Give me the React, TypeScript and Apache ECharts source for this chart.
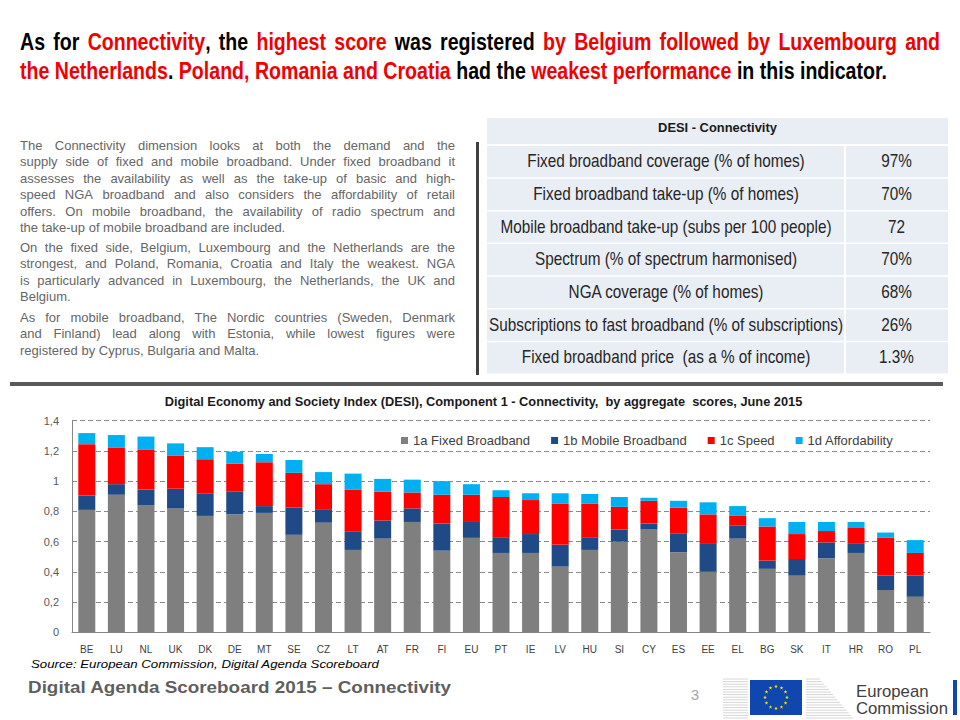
import React, { useEffect, useRef } from "react";
import * as echarts from "echarts";

// ---------- DATA ----------
const countries = ["BE","LU","NL","UK","DK","DE","MT","SE","CZ","LT","AT","FR","FI","EU","PT","IE","LV","HU","SI","CY","ES","EE","EL","BG","SK","IT","HR","RO","PL"];
const fixedBroadband = [0.81,0.91,0.84,0.82,0.77,0.78,0.79,0.645,0.725,0.545,0.62,0.73,0.54,0.625,0.525,0.525,0.435,0.545,0.6,0.68,0.53,0.4,0.62,0.42,0.375,0.49,0.525,0.28,0.235];
const mobileBroadband = [0.095,0.07,0.105,0.13,0.15,0.15,0.045,0.18,0.085,0.12,0.12,0.09,0.18,0.105,0.1,0.125,0.145,0.08,0.08,0.04,0.125,0.19,0.085,0.055,0.11,0.105,0.06,0.095,0.14];
const speed = [0.34,0.24,0.265,0.22,0.225,0.185,0.29,0.23,0.17,0.28,0.19,0.105,0.19,0.18,0.27,0.225,0.27,0.225,0.15,0.15,0.17,0.19,0.065,0.225,0.165,0.075,0.105,0.25,0.15];
const affordability = [0.073,0.085,0.085,0.08,0.08,0.08,0.055,0.085,0.08,0.105,0.085,0.085,0.09,0.07,0.045,0.045,0.07,0.065,0.065,0.02,0.045,0.08,0.065,0.055,0.08,0.06,0.04,0.035,0.085];
const seriesNames = ["1a Fixed Broadband","1b Mobile Broadband","1c Speed","1d Affordability"];
const seriesColors = ["#7F7F7F","#1F4A86","#FF0000","#00B0F0"];
const yTickLabels = ["0","0,2","0,4","0,6","0,8","1","1,2","1,4"];

const chartTitle = "Digital Economy and Society Index (DESI), Component 1 - Connectivity,  by aggregate  scores, June 2015";
const sourceText = "Source: European Commission, Digital Agenda Scoreboard";
const footerText = "Digital Agenda Scoreboard 2015 \u2013 Connectivity";
const pageNumber = "3";

// {...} marks red words
const titleLines = [
  "As for {Connectivity}, the {highest score} was registered {by Belgium followed by Luxembourg and}",
  "{the Netherlands}. {Poland, Romania and Croatia} had the {weakest performance} in this indicator.",
];

const paragraphs = [
  [
    "The Connectivity dimension looks at both the demand and the",
    "supply side of fixed and mobile broadband. Under fixed broadband it",
    "assesses the availability as well as the take-up of basic and high-",
    "speed NGA broadband and also considers the affordability of retail",
    "offers. On mobile broadband, the availability of radio spectrum and",
    "the take-up of mobile broadband are  included.",
  ],
  [
    "On the fixed side, Belgium, Luxembourg and the Netherlands are the",
    "strongest, and Poland, Romania, Croatia and Italy the weakest. NGA",
    "is particularly advanced in Luxembourg, the Netherlands, the UK and",
    "Belgium.",
  ],
  [
    "As for mobile broadband, The Nordic countries (Sweden, Denmark",
    "and Finland) lead along with Estonia, while lowest figures were",
    "registered by Cyprus, Bulgaria and Malta.",
  ],
];

const tableHeader = "DESI - Connectivity";
const tableIndicators = [
  "Fixed broadband coverage (% of homes)",
  "Fixed broadband take-up (% of homes)",
  "Mobile broadband take-up (subs per 100 people)",
  "Spectrum (% of spectrum harmonised)",
  "NGA coverage (% of homes)",
  "Subscriptions to fast broadband (% of subscriptions)",
  "Fixed broadband price  (as a % of income)",
];
const tableValues = ["97%","70%","72","70%","68%","26%","1.3%"];

// ---------- HELPERS ----------
let ctx: CanvasRenderingContext2D | null = null;
function tw(t: string, font: string): number {
  if (!ctx) ctx = document.createElement("canvas").getContext("2d");
  ctx!.font = font;
  return ctx!.measureText(t).width;
}

type Run = { t: string; c: string };
function parseMarked(s: string, base: string, hi: string): Run[][] {
  const words: Run[][] = [];
  let cur: Run[] = [];
  let red = false;
  let run = "";
  const flush = () => { if (run) { cur.push({ t: run, c: red ? hi : base }); run = ""; } };
  for (const ch of s) {
    if (ch === "{") { flush(); red = true; }
    else if (ch === "}") { flush(); red = false; }
    else if (ch === " ") { flush(); if (cur.length) { words.push(cur); cur = []; } }
    else run += ch;
  }
  flush();
  if (cur.length) words.push(cur);
  return words;
}

function textEl(text: string, x: number, y: number, font: string, fill: string, align = "left", sx = 1): any {
  return {
    type: "text", x, y, scaleX: sx, silent: true,
    style: { text, font, fill, align, verticalAlign: "middle", textAlign: align, textVerticalAlign: "middle" },
  };
}

function layoutWords(words: Run[][], font: string, sx: number, x0: number, x1: number, y: number, justify: boolean, out: any[]) {
  const widths = words.map(w => w.reduce((a, r) => a + tw(r.t, font) * sx, 0));
  const total = widths.reduce((a, b) => a + b, 0);
  let gap = tw(" ", font) * sx;
  if (justify && words.length > 1) gap = (x1 - x0 - total) / (words.length - 1);
  let x = x0;
  words.forEach((w, i) => {
    let xx = x;
    w.forEach(r => {
      out.push(textEl(r.t, xx, y, font, r.c, "left", sx));
      xx += tw(r.t, font) * sx;
    });
    x += widths[i] + gap;
  });
}

function fitScale(text: string, font: string, target: number) {
  return target / tw(text, font);
}

function star(cx: number, cy: number, r: number): number[][] {
  const pts: number[][] = [];
  for (let i = 0; i < 10; i++) {
    const a = -Math.PI / 2 + (i * Math.PI) / 5;
    const rr = i % 2 === 0 ? r : r * 0.4;
    pts.push([cx + rr * Math.cos(a), cy + rr * Math.sin(a)]);
  }
  return pts;
}

function buildGraphics(): any[] {
  const els: any[] = [];
  // Title
  const titleFont = "bold 23px 'Liberation Sans'";
  const l2 = parseMarked(titleLines[1], "#000000", "#F00000");
  const nat2 = l2.reduce((a, w) => a + w.reduce((b, r) => b + tw(r.t, titleFont), 0), 0) + tw(" ", titleFont) * (l2.length - 1);
  const tsx = 867 / nat2;
  layoutWords(parseMarked(titleLines[0], "#000000", "#F00000"), titleFont, tsx, 20, 940, 42, true, els);
  layoutWords(l2, titleFont, tsx, 20, 940, 71, false, els);

  // Paragraphs
  const pFont = "13px 'Liberation Sans'";
  const starts = [145, 247, 317];
  const step = 16.5;
  paragraphs.forEach((p, pi) => {
    p.forEach((line, li) => {
      const words = line.split(" ").filter(Boolean).map(w => [{ t: w, c: "#666666" }]);
      layoutWords(words, pFont, 1, 20, 455, starts[pi] + li * step, li < p.length - 1, els);
    });
  });

  // vertical separator + horizontal divider
  els.push({ type: "rect", shape: { x: 476, y: 142, width: 3, height: 233 }, style: { fill: "#404040" }, silent: true });
  els.push({ type: "rect", shape: { x: 10, y: 382, width: 933, height: 4 }, style: { fill: "#595959" }, silent: true });

  // Table
  const cellFill = "#E9EDF4";
  const tx0 = 487, tx1 = 948, tcol = 845;
  els.push({ type: "rect", shape: { x: tx0, y: 118, width: tx1 - tx0, height: 26 }, style: { fill: cellFill }, silent: true });
  const hFont = "bold 12px 'Liberation Sans'";
  els.push(textEl(tableHeader, (tx0 + tx1) / 2, 128.5, hFont, "#1a1a1a", "center", fitScale(tableHeader, hFont, 119)));
  const rowFont = "18px 'Liberation Sans'";
  const rsx = fitScale(tableIndicators[5], rowFont, 354);
  const rowTop = 146, rowH = 32.7;
  tableIndicators.forEach((t, i) => {
    const y = rowTop + i * rowH;
    els.push({ type: "rect", shape: { x: tx0, y, width: tcol - tx0 - 1, height: rowH - 1.5 }, style: { fill: cellFill }, silent: true });
    els.push({ type: "rect", shape: { x: tcol + 1, y, width: tx1 - tcol - 1, height: rowH - 1.5 }, style: { fill: cellFill }, silent: true });
    els.push(textEl(t, (tx0 + tcol) / 2, y + rowH / 2 - 1, rowFont, "#262626", "center", rsx));
    els.push(textEl(tableValues[i], (tcol + tx1) / 2, y + rowH / 2 - 1, rowFont, "#262626", "center", rsx));
  });

  // Chart title
  const ctFont = "bold 12px 'Liberation Sans'";
  els.push(textEl(chartTitle, 483.5, 402.5, ctFont, "#1a1a1a", "center", fitScale(chartTitle, ctFont, 638)));

  // Source
  const sFont = "italic 11px 'Liberation Sans'";
  els.push(textEl(sourceText, 31, 664, sFont, "#000000", "left", fitScale(sourceText, sFont, 349)));

  // Footer
  const fFont = "bold 17px 'Liberation Sans'";
  els.push(textEl(footerText, 28, 687, fFont, "#5f5f5f", "left", fitScale(footerText, fFont, 424)));
  els.push(textEl(pageNumber, 695, 694, "15px 'Liberation Sans'", "#a6a6a6", "center"));

  // EC logo: building lines
  for (let y = 679; y <= 719; y += 2.6) {
    els.push({ type: "line", shape: { x1: 723, y1: y, x2: 748, y2: y }, style: { stroke: "#d6d6d6", lineWidth: 1 }, silent: true });
    const len = 8 + (y - 672) * 0.85;
    els.push({ type: "line", shape: { x1: 806, y1: y, x2: 806 + len, y2: y }, style: { stroke: "#d6d6d6", lineWidth: 1 }, silent: true });
  }
  els.push({ type: "rect", shape: { x: 750, y: 680, width: 52, height: 35 }, style: { fill: "#0F47AF" }, silent: true });
  for (let i = 0; i < 12; i++) {
    const a = (i * Math.PI) / 6;
    els.push({ type: "polygon", shape: { points: star(776 + 11 * Math.cos(a), 697.5 + 11 * Math.sin(a), 2) }, style: { fill: "#FFDD00" }, silent: true });
  }
  const ecFont = "16px 'Liberation Sans'";
  const esx = fitScale("Commission", ecFont, 92);
  els.push(textEl("European", 856, 691, ecFont, "#404040", "left", esx));
  els.push(textEl("Commission", 856, 708, ecFont, "#404040", "left", esx));
  els.push({ type: "rect", shape: { x: 953, y: 680, width: 4, height: 35 }, style: { fill: "#0F47AF" }, silent: true });
  return els;
}

function buildOption(): any {
  const values = [fixedBroadband, mobileBroadband, speed, affordability];
  return {
    animation: false,
    backgroundColor: "#ffffff",
    textStyle: { fontFamily: "'Liberation Sans', sans-serif" },
    grid: { left: 72, right: 30, top: 420.7, bottom: 87.7, containLabel: false },
    legend: {
      data: seriesNames,
      left: 396,
      top: 429,
      icon: "rect",
      itemWidth: 7,
      itemHeight: 7,
      itemGap: 21,
      selectedMode: false,
      textStyle: { fontSize: 13, color: "#404040", fontFamily: "'Liberation Sans', sans-serif" },
    },
    xAxis: {
      type: "category",
      data: countries,
      axisLine: { show: true, lineStyle: { color: "#868686", width: 1 } },
      axisTick: { show: false },
      axisLabel: { fontSize: 10, color: "#404040", margin: 12, interval: 0, fontFamily: "'Liberation Sans Narrow', 'Liberation Sans', sans-serif" },
    },
    yAxis: {
      type: "value",
      min: 0,
      max: 1.4,
      interval: 0.2,
      axisLine: { show: true, lineStyle: { color: "#868686", width: 1 } },
      axisTick: { show: false },
      axisLabel: {
        fontSize: 11,
        color: "#595959",
        margin: 13,
        formatter: (v: number) => yTickLabels[Math.round(v / 0.2)] ?? "",
      },
      splitLine: { show: true, lineStyle: { color: "#8a8a8a", width: 1, type: [5, 3] } },
    },
    series: seriesNames.map((name, i) => ({
      name,
      type: "bar",
      stack: "total",
      barWidth: 17,
      data: values[i],
      itemStyle: { color: seriesColors[i] },
    })),
    graphic: { elements: buildGraphics() },
  };
}

export default function App() {
  const ref = useRef<HTMLDivElement>(null);
  useEffect(() => {
    if (!ref.current) return;
    const chart = echarts.init(ref.current, null, { renderer: "svg" });
    chart.setOption(buildOption());
    return () => chart.dispose();
  }, []);
  return (
    <div
      ref={ref}
      style={{ position: "absolute", left: 0, top: 0, width: 960, height: 720, background: "#ffffff" }}
    />
  );
}
